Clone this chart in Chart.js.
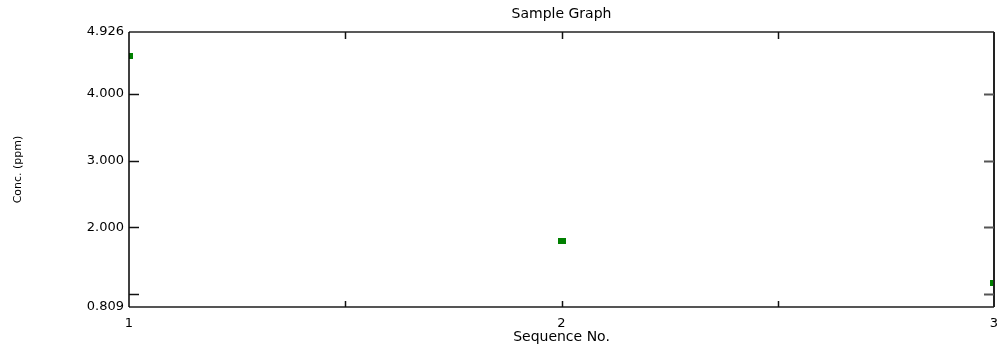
<!DOCTYPE html>
<html>
<head>
<meta charset="utf-8">
<script src="https://cdn.jsdelivr.net/npm/chart.js@4.4.1/dist/chart.umd.min.js"></script>
<style>
  html, body { margin: 0; padding: 0; background: #fff; }
  #wrap { width: 999px; height: 349px; }
</style>
</head>
<body>
<div id="wrap"><canvas id="graph" width="999" height="349"></canvas></div>
<script>
// valeurs
const seqNo = [1, 2, 3];
const conc = [4.567, 1.79, 1.164];
const yTicks = [0.809, 1, 2, 3, 4, 4.926];
const yTickLabels = ['0.809', '', '2.000', '3.000', '4.000', '4.926'];
const xTicks = [1, 2, 3];
const xTickLabels = ['1', '2', '3'];
const xMarks = [1.5, 2, 2.5];
const yMarks = [1, 2, 3, 4];

const FONT = 'DejaVu Sans';

// petit rectangle vert pour les points
const marker = document.createElement('canvas');
marker.width = 8;
marker.height = 6;
const mctx = marker.getContext('2d');
mctx.fillStyle = '#008000';
mctx.fillRect(0, 0, 8, 6);

// cadre et graduations intérieures
const framePlugin = {
    id: 'frame',
    afterDraw(chart) {
        const { ctx, chartArea: a, scales: { x, y } } = chart;
        const line = (x1, y1, x2, y2, color, w) => {
            ctx.beginPath();
            ctx.strokeStyle = color;
            ctx.lineWidth = w;
            ctx.moveTo(x1, y1);
            ctx.lineTo(x2, y2);
            ctx.stroke();
        };
        ctx.save();
        line(a.left, a.top, a.right, a.top, '#222', 1.5);
        line(a.left, a.bottom, a.right, a.bottom, '#555', 2);
        line(a.left, a.top, a.left, a.bottom, '#000', 1.5);
        line(a.right, a.top, a.right, a.bottom, '#222', 2);
        yMarks.forEach(v => {
            const py = Math.round(y.getPixelForValue(v)) + 0.5;
            line(a.left, py, a.left + 10, py, '#111', 1.5);
            line(a.right - 10, py, a.right, py, '#555', 2);
        });
        xMarks.forEach(v => {
            const px = Math.round(x.getPixelForValue(v)) + 0.5;
            line(px, a.top, px, a.top + 7, '#111', 1.5);
            line(px, a.bottom - 6, px, a.bottom, '#111', 1.5);
        });
        ctx.restore();
    }
};

const ctx = document.getElementById('graph').getContext('2d');
new Chart(ctx, {
    type: 'scatter',
    data: {
        datasets: [{
            data: seqNo.map((s, i) => ({ x: s, y: conc[i] })),
            pointStyle: marker,
            backgroundColor: '#008000',
            borderColor: '#008000',
            clip: 0
        }]
    },
    options: {
        responsive: false,
        devicePixelRatio: 1,
        animation: false,
        layout: { padding: { left: 0, right: 2, top: 0, bottom: 0 } },
        plugins: {
            legend: { display: false },
            tooltip: { enabled: false },
            title: {
                display: true,
                text: 'Sample Graph',
                fullSize: false,
                color: '#000',
                font: { family: FONT, size: 14, weight: 'normal' },
                padding: { top: 6, bottom: 9.2 }
            }
        },
        scales: {
            x: {
                type: 'linear',
                min: 1,
                max: 3,
                afterBuildTicks: s => { s.ticks = xTicks.map(v => ({ value: v })); },
                afterFit: s => { s.height = 42; s.paddingLeft = 0; s.paddingRight = 0; },
                grid: { display: false, drawTicks: false },
                border: { display: false },
                ticks: {
                    autoSkip: false,
                    maxRotation: 0,
                    padding: 9,
                    color: '#000',
                    font: { family: FONT, size: 13 },
                    callback: (v, i) => xTickLabels[i]
                },
                title: {
                    display: true,
                    text: 'Sequence No.',
                    color: '#000',
                    font: { family: FONT, size: 14 },
                    padding: { top: 0, bottom: 3 }
                }
            },
            y: {
                type: 'linear',
                min: 0.809,
                max: 4.926,
                afterBuildTicks: s => { s.ticks = yTicks.map(v => ({ value: v })); },
                afterFit: s => { s.width = 129; },
                grid: { display: false, drawTicks: false },
                border: { display: false },
                ticks: {
                    autoSkip: false,
                    padding: 5,
                    color: '#000',
                    font: { family: FONT, size: 13 },
                    callback: (v, i) => yTickLabels[i]
                },
                title: {
                    display: true,
                    text: 'Conc. (ppm)',
                    color: '#000',
                    font: { family: FONT, size: 11 },
                    padding: { top: 12, bottom: 0 }
                }
            }
        }
    },
    plugins: [framePlugin]
});
</script>
</body>
</html>
